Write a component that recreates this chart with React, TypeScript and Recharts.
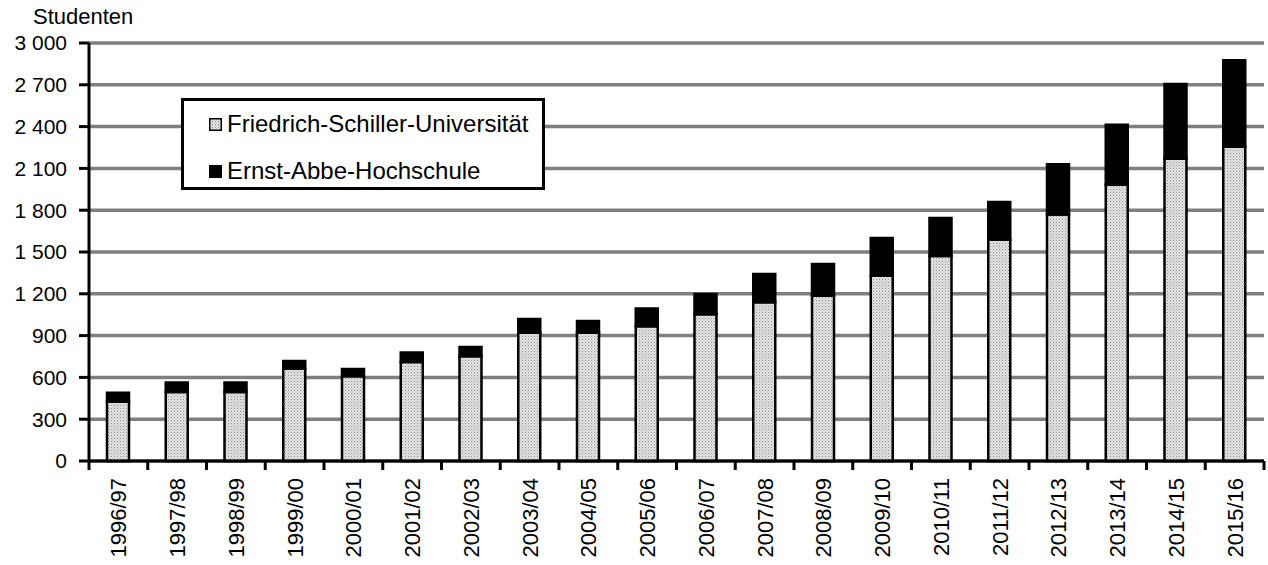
import { BarChart, Bar, XAxis, YAxis, CartesianGrid } from 'recharts';

const semesters = [
  '1996/97', '1997/98', '1998/99', '1999/00', '2000/01', '2001/02', '2002/03',
  '2003/04', '2004/05', '2005/06', '2006/07', '2007/08', '2008/09', '2009/10',
  '2010/11', '2011/12', '2012/13', '2013/14', '2014/15', '2015/16',
];
const fsu = [425, 495, 495, 663, 608, 711, 752, 921, 920, 967, 1054, 1140, 1186, 1330, 1472, 1588, 1770, 1985, 2170, 2255];
const eah = [64, 68, 68, 55, 53, 67, 66, 98, 84, 127, 144, 202, 228, 270, 272, 271, 360, 428, 535, 622];
const yTicks = [0, 300, 600, 900, 1200, 1500, 1800, 2100, 2400, 2700, 3000];

const data = semesters.map((s, i) => ({ semester: s, fsu: fsu[i], eah: eah[i] }));

const FONT = '"Liberation Sans", Arial, Helvetica, sans-serif';
const W = 1268;
const H = 565;
const margin = { top: 43, right: 4, bottom: 0, left: 0 };
const Y_AXIS_W = 89;
const BAND = (W - margin.left - margin.right - Y_AXIS_W) / semesters.length;

const fmt = (v: number) =>
  v >= 1000 ? `${Math.floor(v / 1000)} ${String(v % 1000).padStart(3, '0')}` : String(v);

function XTick(props: any) {
  const { x, y, payload, index } = props;
  const left = x - BAND / 2;
  const right = x + BAND / 2;
  return (
    <g>
      <line x1={left} y1={y} x2={left} y2={y + 9} stroke="#000" strokeWidth={3} />
      {index === semesters.length - 1 && (
        <line x1={right} y1={y} x2={right} y2={y + 9} stroke="#000" strokeWidth={3} />
      )}
      <text
        x={x}
        y={y + 17}
        dy="0.36em"
        textAnchor="end"
        transform={`rotate(-90, ${x}, ${y + 17})`}
        fontSize={22}
        fontFamily={FONT}
        fill="#000"
      >
        {payload.value}
      </text>
    </g>
  );
}

export default function App() {
  return (
    <div style={{ position: 'absolute', left: 0, top: 0, width: W, height: H, fontFamily: FONT, background: '#fff', overflow: 'hidden' }}>
      {/* title sits above the picture's top edge, as in the reference */}
      <div
        style={{
          position: 'absolute', left: 0, width: 1376, top: -20, textAlign: 'center',
          fontSize: 24, lineHeight: '24px', color: '#000', whiteSpace: 'nowrap',
        }}
      >
        Ausländische Studenten in Jena im Wintersemester
      </div>
      <div style={{ position: 'absolute', left: 33, top: 5, fontSize: 22, lineHeight: '24px', color: '#000' }}>
        Studenten
      </div>
      <BarChart width={W} height={H} data={data} margin={margin} barSize={22}>
        <defs>
          <pattern id="dots" width="3" height="3" patternUnits="userSpaceOnUse">
            <rect width="3" height="3" fill="#e4e4e4" />
            <rect x="0" y="0" width="1" height="1" fill="#8c8c8c" />
            <rect x="1.5" y="1.5" width="1" height="1" fill="#a8a8a8" />
          </pattern>
        </defs>
        <CartesianGrid vertical={false} stroke="#7f7f7f" strokeWidth={3.5} />
        <XAxis
          dataKey="semester"
          height={H - 461 - margin.bottom}
          interval={0}
          tickSize={0}
          tickMargin={0}
          axisLine={{ stroke: '#000', strokeWidth: 3 }}
          tickLine={false}
          tick={<XTick />}
        />
        <YAxis
          width={Y_AXIS_W}
          domain={[0, 3000]}
          ticks={yTicks}
          interval={0}
          tickFormatter={fmt}
          tickSize={10}
          tickMargin={12}
          axisLine={{ stroke: '#000', strokeWidth: 3 }}
          tickLine={{ stroke: '#000', strokeWidth: 3 }}
          tick={{ fill: '#000', fontSize: 21, fontFamily: FONT }}
        />
        <Bar dataKey="fsu" stackId="a" fill="url(#dots)" stroke="#000" strokeWidth={2.5} isAnimationActive={false} />
        <Bar dataKey="eah" stackId="a" fill="#000" stroke="#000" strokeWidth={2.5} isAnimationActive={false} />
      </BarChart>
      <div
        style={{
          position: 'absolute', left: 181, top: 98, width: 364, height: 92, boxSizing: 'border-box',
          border: '3px solid #000', background: '#fff',
        }}
      >
        {[
          { label: 'Friedrich-Schiller-Universität', swatch: 'fsu' },
          { label: 'Ernst-Abbe-Hochschule', swatch: 'eah' },
        ].map((item, i) => (
          <div
            key={item.label}
            style={{ position: 'absolute', left: 25, top: 8 + i * 47, height: 30, display: 'flex', alignItems: 'center' }}
          >
            <svg width={13} height={13} style={{ marginRight: 5 }}>
              {item.swatch === 'fsu' ? (
                <>
                  <defs>
                    <pattern id="dotsLegend" width="3" height="3" patternUnits="userSpaceOnUse">
                      <rect width="3" height="3" fill="#e4e4e4" />
                      <rect x="0" y="0" width="1" height="1" fill="#8c8c8c" />
                      <rect x="1.5" y="1.5" width="1" height="1" fill="#a8a8a8" />
                    </pattern>
                  </defs>
                  <rect x={0.75} y={0.75} width={11.5} height={11.5} fill="url(#dotsLegend)" stroke="#000" strokeWidth={1.5} />
                </>
              ) : (
                <rect x={0} y={0} width={13} height={13} fill="#000" />
              )}
            </svg>
            <span style={{ fontSize: 24, color: '#000', whiteSpace: 'nowrap' }}>{item.label}</span>
          </div>
        ))}
      </div>
    </div>
  );
}
